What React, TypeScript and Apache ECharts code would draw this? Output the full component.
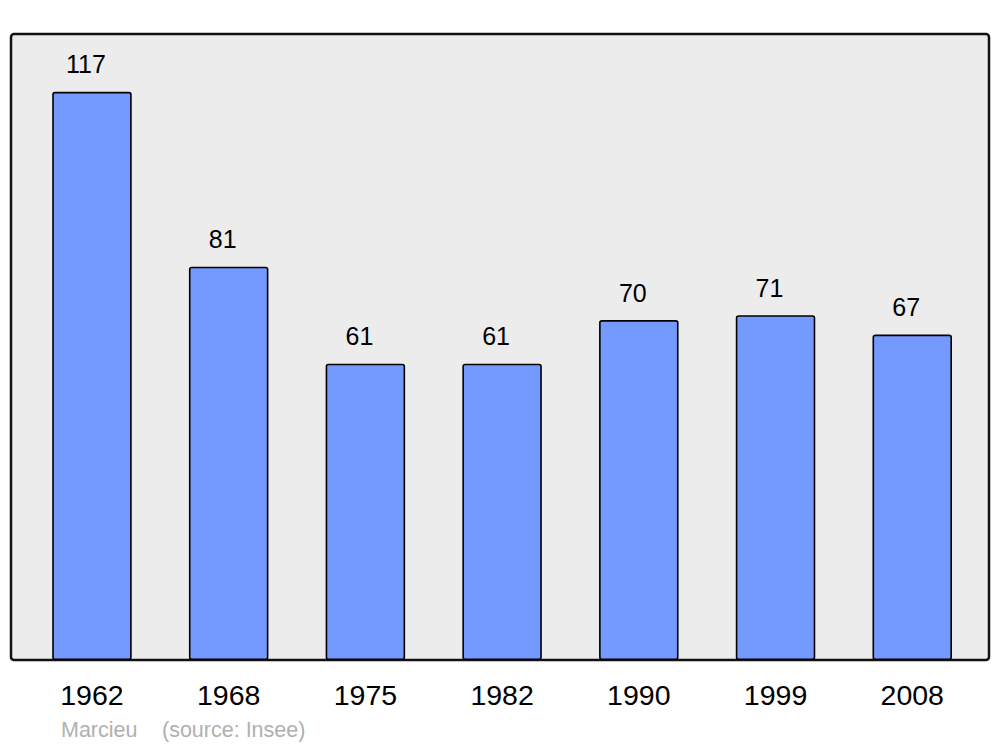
import React, { useEffect, useRef } from "react";
import * as echarts from "echarts";

const years = ["1962", "1968", "1975", "1982", "1990", "1999", "2008"];
const population = [117, 81, 61, 61, 70, 71, 67];
const commune = "Marcieu";
const source = "(source: Insee)";

export default function App() {
  const ref = useRef<HTMLDivElement>(null);
  useEffect(() => {
    const chart = echarts.init(ref.current!, null, { renderer: "svg" });
    chart.setOption({
      animation: false,
      backgroundColor: "#ffffff",
      textStyle: { fontFamily: "Liberation Sans, Arial, sans-serif" },
      graphic: [
        {
          type: "rect",
          z: -10,
          shape: { x: 11, y: 34, width: 978, height: 626, r: 3 },
          style: { fill: "#ececec", stroke: "#111111", lineWidth: 2.5 },
        },
        {
          type: "text",
          x: 61,
          y: 730,
          style: {
            text: commune,
            fill: "#b0b0b0",
            fontSize: 21.5,
            fontFamily: "Liberation Sans, Arial, sans-serif",
            verticalAlign: "middle",
          },
        },
        {
          type: "text",
          x: 162,
          y: 730,
          style: {
            text: source,
            fill: "#b0b0b0",
            fontSize: 21.5,
            fontFamily: "Liberation Sans, Arial, sans-serif",
            verticalAlign: "middle",
          },
        },
      ],
      grid: { left: 23.6, width: 957, top: 34, height: 626 },
      xAxis: {
        type: "category",
        data: years,
        axisLine: { show: false },
        axisTick: { show: false },
        axisLabel: {
          color: "#000000",
          fontSize: 28.5,
          margin: 20,
          fontFamily: "Liberation Sans, Arial, sans-serif",
        },
      },
      yAxis: {
        type: "value",
        min: 0,
        max: 128.9,
        show: false,
        splitLine: { show: false },
      },
      series: [
        {
          type: "bar",
          data: population,
          barWidth: 79.5,
          itemStyle: {
            color: "#7499ff",
            borderColor: "#000000",
            borderWidth: 1.6,
            borderRadius: 2,
          },
          label: {
            show: true,
            position: "top",
            distance: 15,
            offset: [-6, 0],
            color: "#000000",
            fontSize: 25,
            fontFamily: "Liberation Sans, Arial, sans-serif",
          },
        },
      ],
    });
    return () => chart.dispose();
  }, []);
  return <div ref={ref} style={{ width: 1000, height: 747, position: "absolute", left: 0, top: 0 }} />;
}
